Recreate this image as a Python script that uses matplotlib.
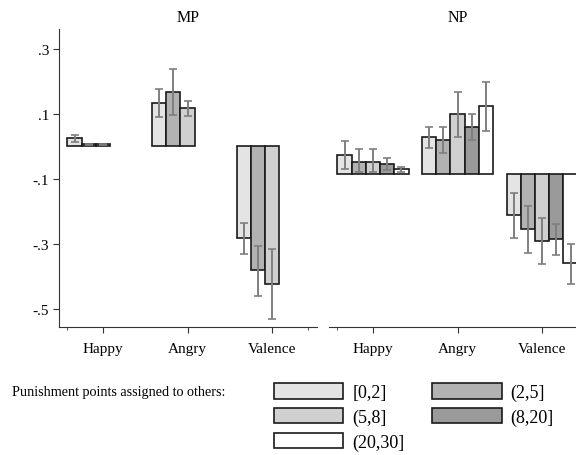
import numpy as np
import matplotlib
matplotlib.use("Agg")
import matplotlib.pyplot as plt

categories = ["Happy", "Angry", "Valence"]
groups = ["[0,2]", "(2,5]", "(5,8]", "(8,20]", "(20,30]"]
colors = ["#e4e4e4", "#b2b2b2", "#d0d0d0", "#9a9a9a", "#ffffff"]

# MP panel: only the first three groups have data
mp_means = [
    [0.027, 0.133, -0.282],
    [0.007, 0.169, -0.381],
    [0.007, 0.118, -0.422],
]
mp_lo = [
    [0.015, 0.091, -0.331],
    [0.005, 0.097, -0.461],
    [0.005, 0.094, -0.530],
]
mp_hi = [
    [0.036, 0.176, -0.235],
    [0.009, 0.238, -0.305],
    [0.009, 0.139, -0.314],
]

# NP panel: all five groups
np_means = [
    [0.059, 0.115, -0.127],
    [0.038, 0.105, -0.170],
    [0.038, 0.184, -0.205],
    [0.032, 0.145, -0.201],
    [0.014, 0.208, -0.274],
]
np_lo = [
    [0.015, 0.081, -0.196],
    [0.005, 0.066, -0.243],
    [0.005, 0.115, -0.276],
    [0.013, 0.106, -0.249],
    [0.006, 0.132, -0.339],
]
np_hi = [
    [0.102, 0.146, -0.059],
    [0.076, 0.146, -0.098],
    [0.076, 0.252, -0.135],
    [0.050, 0.184, -0.155],
    [0.022, 0.283, -0.214],
]

plt.rcParams['font.family'] = ['Liberation Serif', 'DejaVu Serif']
plt.rcParams['font.size'] = 11

W, H = 576, 456
fig = plt.figure(figsize=(W / 100, H / 100), dpi=100)


def px_axes(left, top, right, bottom):
    return fig.add_axes([left / W, 1 - bottom / H, (right - left) / W, (bottom - top) / H])


def draw_panel(ax, means, lo, hi, title):
    x = np.arange(len(categories))
    w = 0.168
    handles = []
    for i in range(len(means)):
        pos = x + (i - 2) * w
        m = np.array(means[i])
        h = ax.bar(pos, m, width=w, color=colors[i], edgecolor="#1a1a1a",
                   linewidth=1.2, zorder=2)
        handles.append(h)
        err = [m - np.array(lo[i]), np.array(hi[i]) - m]
        ax.errorbar(pos, m, yerr=err, fmt="none", ecolor="#7f7f7f",
                    elinewidth=1.4, capsize=3, capthick=1.2, zorder=3)
    ax.set_xlim(-0.52, 2.53)
    ax.set_xticks(x)
    ax.set_xticklabels(categories)
    ax.set_xticks([-0.42, 2.42], minor=True)
    ax.tick_params(axis="x", which="major", length=4, pad=7, color="#333333")
    ax.tick_params(axis="x", which="minor", length=2, color="#333333")
    ax.spines["top"].set_visible(False)
    ax.spines["right"].set_visible(False)
    ax.spines["bottom"].set_color("#333333")
    ax.set_title(title, pad=6, fontsize=11.5)
    return handles


ax1 = px_axes(59, 30, 317, 328)
ax2 = px_axes(329, 30, 587, 328)

handles = draw_panel(ax1, mp_means, mp_lo, mp_hi, "MP")
handles = draw_panel(ax2, np_means, np_lo, np_hi, "NP")

ax1.set_ylim(-0.5554, 0.3615)
ax1.set_yticks([0.3, 0.1, -0.1, -0.3, -0.5])
ax1.set_yticklabels([".3", ".1", "-.1", "-.3", "-.5"])
ax1.tick_params(axis="y", length=4, pad=3, color="#333333")
ax1.spines["left"].set_color("#333333")

ax2.set_ylim(-0.4708, 0.446)
ax2.set_yticks([])
ax2.spines["left"].set_visible(False)

fig.text(12 / W, 1 - 393 / H, "Punishment points assigned to others:",
         ha="left", va="center", fontsize=10.2)

order = [0, 2, 4, 1, 3]
leg = fig.legend([handles[i] for i in order], [groups[i] for i in order],
                 ncol=2, loc="upper left", bbox_to_anchor=(274 / W, 1 - 384 / H),
                 frameon=False, handlelength=3.83, handleheight=0.95,
                 handletextpad=0.5, columnspacing=1.55, labelspacing=0.38,
                 borderpad=0, borderaxespad=0, fontsize=13)

fig.savefig("out.png", dpi=100)
